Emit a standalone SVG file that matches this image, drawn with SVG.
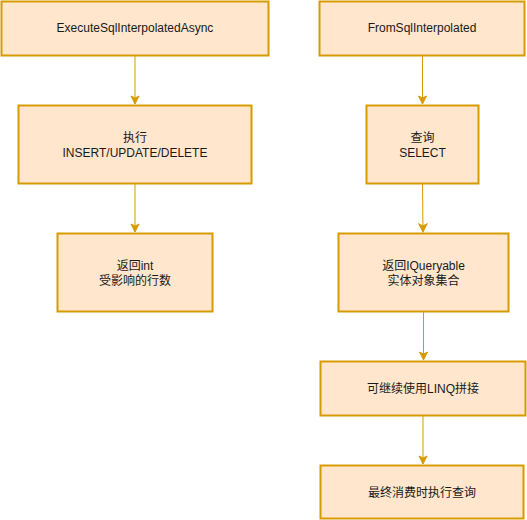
<svg xmlns="http://www.w3.org/2000/svg" width="527" height="520" viewBox="0 0 527 520">
<style>
.box{fill:#ffe6cc;stroke:#d79b00;stroke-width:2}
.t{font-family:"Liberation Sans","Noto Sans CJK SC",sans-serif;font-size:12px;fill:#1a1a1a;text-anchor:middle}
.e{stroke:#d79b00;stroke-width:1;fill:none}
</style>
<defs>
<marker id="a" markerWidth="10" markerHeight="10" refX="9" refY="5" orient="auto" markerUnits="userSpaceOnUse">
<path d="M1,1 L9,5 L1,9 L3,5 Z" fill="#d79b00" stroke="#d79b00" stroke-width="1"/>
</marker>
</defs>
<g id="connectors">
<path class="e" d="M135,56 L135,104" marker-end="url(#a)"/>
<path class="e" d="M422.5,56 L422.5,104" marker-end="url(#a)"/>
<path class="e" d="M135,184 L135,232" marker-end="url(#a)"/>
<path class="e" d="M422.5,184 L423,232" marker-end="url(#a)"/>
<path class="e" d="M423.5,312 L423.5,360" marker-end="url(#a)"/>
<path class="e" d="M423,416 L423,464" marker-end="url(#a)"/>
</g>
<g id="n1"><rect class="box" x="1.5" y="1.5" width="267" height="54"/><text class="t" x="135" y="32">ExecuteSqlInterpolatedAsync</text></g>
<g id="n2"><rect class="box" x="319.5" y="1.5" width="205" height="54"/><text class="t" x="422" y="32">FromSqlInterpolated</text></g>
<g id="n3"><rect class="box" x="18.5" y="105.5" width="233" height="78"/><text class="t" x="135" y="142">执行</text><text class="t" x="135" y="157">INSERT/UPDATE/DELETE</text></g>
<g id="n4"><rect class="box" x="366.5" y="105.5" width="112" height="78"/><text class="t" x="422.5" y="142">查询</text><text class="t" x="422.5" y="157">SELECT</text></g>
<g id="n5"><rect class="box" x="57.5" y="233.5" width="155" height="78"/><text class="t" x="135" y="270">返回int</text><text class="t" x="135" y="285">受影响的行数</text></g>
<g id="n6"><rect class="box" x="338.5" y="233.5" width="170" height="78"/><text class="t" x="423.5" y="270">返回IQueryable</text><text class="t" x="423.5" y="285">实体对象集合</text></g>
<g id="n7"><rect class="box" x="320.5" y="361.5" width="205" height="54"/><text class="t" x="423" y="393">可继续使用LINQ拼接</text></g>
<g id="n8"><rect class="box" x="320.5" y="465.5" width="203" height="53"/><text class="t" x="422" y="497">最终消费时执行查询</text></g>
</svg>
